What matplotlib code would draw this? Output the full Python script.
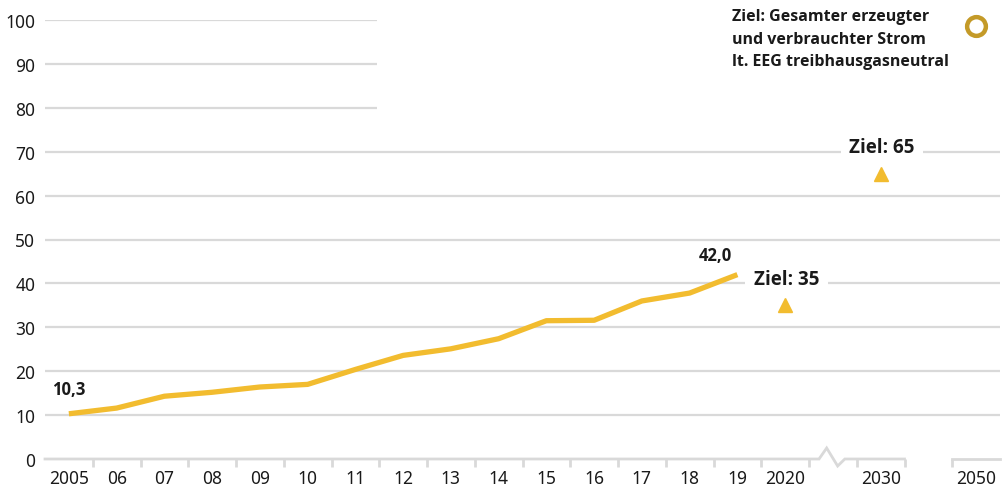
import matplotlib
matplotlib.use("Agg")
import matplotlib.pyplot as plt
from matplotlib import font_manager as fm
import numpy as np

plt.rcParams['font.family'] = ['Noto Sans', 'DejaVu Sans']

# ---- data ----
years = ["2005", "06", "07", "08", "09", "10", "11", "12", "13", "14",
         "15", "16", "17", "18", "19"]
share = [10.3, 11.6, 14.3, 15.2, 16.4, 17.0, 20.4, 23.6, 25.1, 27.4,
         31.5, 31.6, 36.0, 37.8, 42.0]
tick_labels = years + ["2020", "", "2030", "", "2050"]
target_labels = ["2020", "2030"]
target_values = [35, 65]
target_2050 = 100
yticks = list(range(0, 101, 10))

# ---- style ----
YELLOW = "#F2BC2F"
GOLD = "#C49A28"
GRID = "#D9D9D9"
TEXT = "#1A1A1A"

# pick a bold family that really has a bold face
bold_family = 'DejaVu Sans'
for fam in ['Noto Sans', 'Open Sans', 'Lato', 'Roboto']:
    for f in fm.fontManager.ttflist:
        if f.name == fam and (f.weight in (600, 700, 'bold', 'semibold')):
            bold_family = fam
            break
    if bold_family != 'DejaVu Sans':
        break
BOLD = dict(family=[bold_family, 'DejaVu Sans'], fontweight='bold')

pos = {lab: i for i, lab in enumerate(tick_labels) if lab}

fig = plt.figure(figsize=(10.03, 4.89), dpi=100)
W, H = 1003, 489
ax = fig.add_axes([45 / W, (H - 460) / H, (1000 - 45) / W, (460 - 21) / H])
ax.set_xlim(-0.5, len(tick_labels) - 0.5)
ax.set_ylim(0, 100)
for s in ax.spines.values():
    s.set_visible(False)

# gridlines
for v in yticks[1:]:
    xmax = 6.46 if v >= 80 else len(tick_labels) - 0.5
    ax.hlines(v, -0.5, xmax, color=GRID, lw=1.6, zorder=1)

# baseline with axis break
brk = 16
ax.plot([-0.5, brk - 0.29, brk - 0.13, brk + 0.10, brk + 0.25, 17.5],
        [0, 0, 2.5, -1.6, 0, 0], color=GRID, lw=2, zorder=1,
        clip_on=False, solid_joinstyle='miter')
ax.plot([18.5, 19.5], [0, 0], color=GRID, lw=2, zorder=1, clip_on=False)

# ticks
ax.set_yticks(yticks)
ax.set_yticklabels([str(v) for v in yticks])
ax.set_xticks(range(len(tick_labels)))
ax.set_xticklabels(tick_labels)
ax.set_xticks(np.arange(0.5, 19, 1.0), minor=True)
ax.tick_params(axis='x', which='major', length=0, pad=7, labelsize=12.5,
               colors=TEXT)
ax.tick_params(axis='x', which='minor', length=6, width=2, color=GRID,
               direction='out')
ax.tick_params(axis='y', length=0, pad=7, labelsize=12.5, colors=TEXT)

# main line
xs = [pos[y] for y in years]
ax.plot(xs, share, color=YELLOW, lw=3.8, solid_capstyle='butt', zorder=3)

ax.annotate("10,3", (xs[0], share[0]), xytext=(0, 18), textcoords='offset points',
            ha='center', va='center', fontsize=12, color=TEXT, **BOLD)
ax.annotate("42,0", (xs[-1], share[-1]), xytext=(-16, 14), textcoords='offset points',
            ha='center', va='center', fontsize=12, color=TEXT, **BOLD)

# targets
for lab, val in zip(target_labels, target_values):
    ax.plot(pos[lab], val, marker='^', ms=10, color=YELLOW, mec=YELLOW,
            zorder=4, linestyle='none')
    ax.annotate(f"Ziel: {val}", (pos[lab], val), xytext=(1, 19),
                textcoords='offset points', ha='center', va='center',
                fontsize=13.5, color=TEXT, zorder=5, **BOLD,
                bbox=dict(boxstyle='square,pad=0.45', fc='white', ec='none'))

ax.plot(pos["2050"], target_2050 - 1.3, marker='o', ms=13.5, mfc='white', mec=GOLD,
        mew=3.2, clip_on=False, zorder=4, linestyle='none')

fig.text(732 / W, 1 - 9 / H,
         "Ziel: Gesamter erzeugter\nund verbrauchter Strom\nlt. EEG treibhausgasneutral",
         ha='left', va='top', fontsize=11.5, color=TEXT,
         linespacing=1.55, **BOLD)

fig.savefig("out.png", dpi=100)
